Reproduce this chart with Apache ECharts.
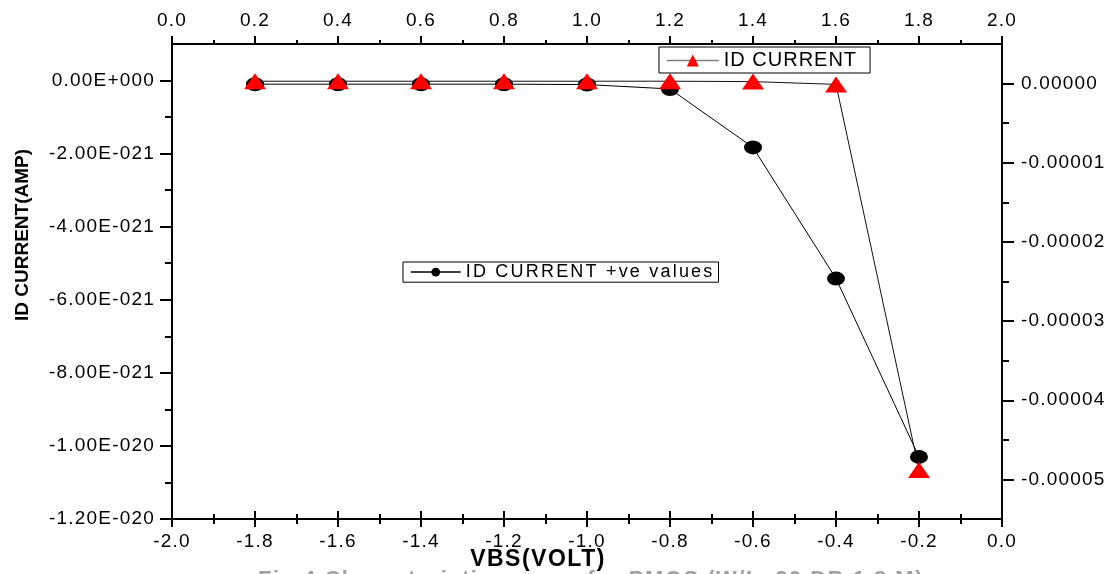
<!DOCTYPE html>
<html>
<head>
<meta charset="utf-8">
<script src="https://cdn.jsdelivr.net/npm/echarts@6/dist/echarts.min.js"></script>
<style>
html,body{margin:0;padding:0;background:#fff;}
#chart{width:1116px;height:574px;}
</style>
</head>
<body>
<div id="chart"></div>
<script>
// ---------------- data ----------------
const vbsBottom = [-1.8, -1.6, -1.4, -1.2, -1.0, -0.8, -0.6, -0.4, -0.2];
const vbsTop = [0.2, 0.4, 0.6, 0.8, 1.0, 1.2, 1.4, 1.6, 1.8];
// ID CURRENT +ve values, in units of 1e-21 A (left axis)
const idPositiveE21 = [-0.10, -0.10, -0.10, -0.10, -0.11, -0.23, -1.83, -5.42, -10.30];
// ID CURRENT in A (right axis)
const idCurrent = [3e-7, 3e-7, 3e-7, 3e-7, 3e-7, 3e-7, 2.5e-7, -1e-7, -4.88e-5];

const leftTickValues = [0, -2, -4, -6, -8, -10, -12];
const leftTickLabels = ['0.00E+000', '-2.00E-021', '-4.00E-021', '-6.00E-021', '-8.00E-021', '-1.00E-020', '-1.20E-020'];
const leftMinorTicks = [-1, -3, -5, -7, -9, -11];
const rightTickValues = [0, -1e-5, -2e-5, -3e-5, -4e-5, -5e-5];
const rightTickLabels = ['0.00000', '-0.00001', '-0.00002', '-0.00003', '-0.00004', '-0.00005'];
const rightMinorTicks = [-0.5e-5, -1.5e-5, -2.5e-5, -3.5e-5, -4.5e-5];

const seriesNames = ['ID CURRENT +ve values', 'ID CURRENT'];
const xAxisTitle = 'VBS(VOLT)';
const yAxisTitle = 'ID CURRENT(AMP)';
const captionText = 'Fig.4 Characteristics curve for PMOS (W/L=20 DB 1.8 M)';

// ------------- widen text slightly (reference glyphs are horizontally stretched) -------------
(function () {
  const proto = CanvasRenderingContext2D.prototype;
  const desc = Object.getOwnPropertyDescriptor(proto, 'font');
  if (!desc || !('letterSpacing' in proto)) return;
  function spacingFor(font) {
    const m = /(\d+(?:\.\d+)?)px/.exec(font || '');
    const s = m ? parseFloat(m[1]) : 12;
    const bold = /bold|[6-9]00/.test(font || '');
    if (bold) return s >= 22 ? '1.5px' : '0px';
    if (s >= 20) return '1px';
    if (s >= 19) return '1.2px';
    if (s >= 18) return '2.2px';
    return '0px';
  }
  Object.defineProperty(proto, 'font', {
    configurable: true,
    get: function () { return desc.get.call(this); },
    set: function (v) { desc.set.call(this, v); try { this.letterSpacing = spacingFor(v); } catch (e) {} }
  });
})();

function labelFor(values, labels, v, tol) {
  for (let i = 0; i < values.length; i++) {
    if (Math.abs(values[i] - v) < tol) return labels[i];
  }
  return '';
}

const FONT = 'Liberation Sans';
const AX = '#000';

const chart = echarts.init(document.getElementById('chart'), null, { renderer: 'canvas' });

const xLabel = { color: '#000', fontSize: 19, fontFamily: FONT, margin: 13, formatter: v => v.toFixed(1) };

const option = {
  animation: false,
  backgroundColor: '#fff',
  textStyle: { fontFamily: FONT },
  grid: { left: 172, top: 44, width: 830, height: 475, containLabel: false },
  xAxis: [
    {
      type: 'value', position: 'bottom', min: -2, max: 0, interval: 0.2,
      splitLine: { show: false },
      axisLine: { show: true, onZero: false, lineStyle: { color: AX, width: 2 } },
      axisTick: { show: true, length: 8, lineStyle: { color: AX, width: 2 } },
      minorTick: { show: true, splitNumber: 2, length: 5, lineStyle: { color: AX, width: 2 } },
      axisLabel: xLabel
    },
    {
      type: 'value', position: 'top', min: 0, max: 2, interval: 0.2,
      splitLine: { show: false },
      axisLine: { show: true, onZero: false, lineStyle: { color: AX, width: 2 } },
      axisTick: { show: true, length: 8, lineStyle: { color: AX, width: 2 } },
      minorTick: { show: true, splitNumber: 2, length: 4, lineStyle: { color: AX, width: 2 } },
      axisLabel: Object.assign({}, xLabel, { margin: 13 })
    },
    {
      type: 'value', position: 'bottom', min: -2, max: 0, interval: 0.2,
      splitLine: { show: false },
      axisLine: { show: false, onZero: false },
      axisLabel: { show: false },
      axisTick: { show: true, inside: true, length: 8, lineStyle: { color: AX, width: 2 } },
      minorTick: { show: true, splitNumber: 2, length: 5, lineStyle: { color: AX, width: 2 } }
    }
  ],
  yAxis: [
    {
      type: 'value', position: 'left', min: -12, max: 1,
      splitLine: { show: false },
      axisLine: { show: true, onZero: false, lineStyle: { color: AX, width: 2 } },
      axisTick: { show: true, length: 12, customValues: leftTickValues, lineStyle: { color: AX, width: 2 } },
      axisLabel: {
        customValues: leftTickValues, margin: 17, color: '#000', fontSize: 19, fontFamily: FONT,
        formatter: v => labelFor(leftTickValues, leftTickLabels, v, 1e-6)
      }
    },
    {
      type: 'value', position: 'right', min: -5.5e-5, max: 5e-6,
      splitLine: { show: false },
      axisLine: { show: true, onZero: false, lineStyle: { color: AX, width: 2 } },
      axisTick: { show: true, length: 12, customValues: rightTickValues, lineStyle: { color: AX, width: 2 } },
      axisLabel: {
        customValues: rightTickValues, margin: 19, color: '#000', fontSize: 19, fontFamily: FONT,
        formatter: v => labelFor(rightTickValues, rightTickLabels, v, 1e-9)
      }
    },
    {
      type: 'value', position: 'left', min: -12, max: 1,
      splitLine: { show: false },
      axisLine: { show: false, onZero: false },
      axisLabel: { show: false },
      axisTick: { show: true, length: 7, customValues: leftMinorTicks, lineStyle: { color: AX, width: 2 } }
    },
    {
      type: 'value', position: 'right', min: -5.5e-5, max: 5e-6,
      splitLine: { show: false },
      axisLine: { show: false, onZero: false },
      axisLabel: { show: false },
      axisTick: { show: true, length: 7, customValues: rightMinorTicks, lineStyle: { color: AX, width: 2 } }
    }
  ],
  legend: [
    {
      data: [seriesNames[1]],
      left: 659, top: 47,
      itemWidth: 52, itemHeight: 15,
      padding: [3, 13, 2, 7],
      borderColor: '#000', borderWidth: 1,
      backgroundColor: '#fff',
      selectedMode: false,
      lineStyle: { color: '#808080', width: 1.5 },
      textStyle: { fontSize: 20, color: '#000', fontFamily: FONT }
    },
    {
      data: [seriesNames[0]],
      left: 403, top: 262,
      itemWidth: 50, itemHeight: 11,
      padding: [0, 4, 0, 7],
      borderColor: '#000', borderWidth: 1,
      backgroundColor: '#fff',
      selectedMode: false,
      lineStyle: { color: '#000', width: 1.5 },
      textStyle: { fontSize: 18, color: '#000', fontFamily: FONT }
    }
  ],
  series: [
    {
      name: seriesNames[0],
      type: 'line',
      xAxisIndex: 0, yAxisIndex: 0,
      data: vbsBottom.map((x, i) => [x, idPositiveE21[i]]),
      symbol: 'circle', symbolSize: [18, 14],
      itemStyle: { color: '#000' },
      lineStyle: { color: '#000', width: 1 },
      emphasis: { disabled: true },
      z: 2
    },
    {
      name: seriesNames[1],
      type: 'line',
      xAxisIndex: 1, yAxisIndex: 1,
      data: vbsTop.map((x, i) => [x, idCurrent[i]]),
      symbol: 'triangle', symbolSize: [22, 16],
      itemStyle: { color: '#ff0000' },
      lineStyle: { color: '#111', width: 1 },
      emphasis: { disabled: true },
      z: 3
    }
  ],
  graphic: [
    {
      type: 'text', x: 23, y: 235, rotation: Math.PI / 2,
      style: { text: yAxisTitle, font: 'bold 19px "Liberation Sans"', fill: '#000', align: 'center', verticalAlign: 'middle' }
    },
    {
      type: 'text', x: 538, y: 560,
      style: { text: xAxisTitle, font: 'bold 23px "Liberation Sans"', fill: '#000', align: 'center', verticalAlign: 'middle' }
    },
    {
      type: 'text', x: 258, y: 568,
      style: { text: captionText, font: 'bold 22px "Liberation Sans"', fill: '#a0a0a0', align: 'left', verticalAlign: 'top' }
    }
  ]
};

chart.setOption(option);
</script>
</body>
</html>
